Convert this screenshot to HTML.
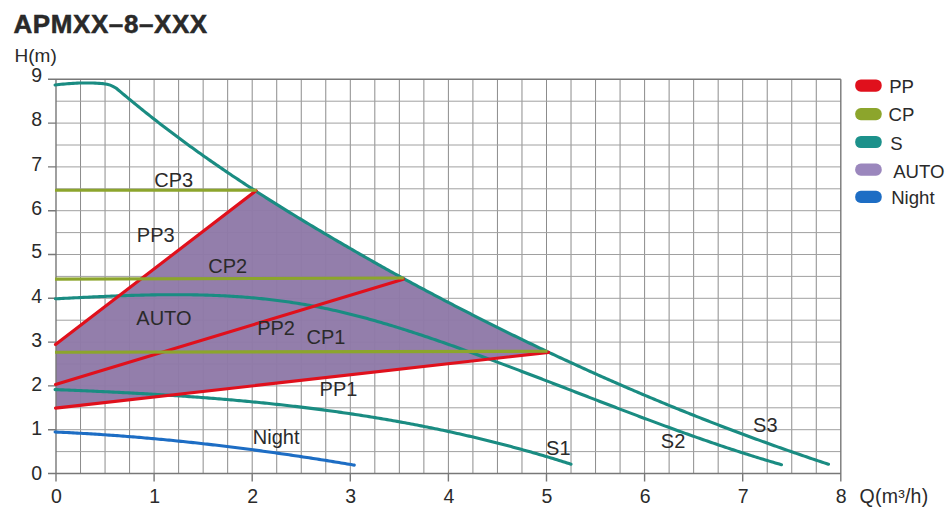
<!DOCTYPE html><html><head><meta charset="utf-8"><style>html,body{margin:0;padding:0;background:#fff;width:948px;height:520px;overflow:hidden}svg{display:block}text{font-family:"Liberation Sans",sans-serif;fill:#2a2a2a}</style></head><body>
<svg width="948" height="520" viewBox="0 0 948 520">
<text x="13.5" y="33" font-size="26" font-weight="bold" letter-spacing="0.58" fill="#262626" stroke="#262626" stroke-width="0.5">APMXX–8–XXX</text>
<text x="14.5" y="61.6" font-size="19">H(m)</text>
<path d="M80.53,79.30V473.50M105.05,79.30V473.50M129.57,79.30V473.50M154.10,79.30V473.50M178.62,79.30V473.50M203.15,79.30V473.50M227.67,79.30V473.50M252.20,79.30V473.50M276.73,79.30V473.50M301.25,79.30V473.50M325.77,79.30V473.50M350.30,79.30V473.50M374.82,79.30V473.50M399.35,79.30V473.50M423.88,79.30V473.50M448.40,79.30V473.50M472.92,79.30V473.50M497.45,79.30V473.50M521.97,79.30V473.50M546.50,79.30V473.50M571.02,79.30V473.50M595.55,79.30V473.50M620.07,79.30V473.50M644.60,79.30V473.50M669.12,79.30V473.50M693.65,79.30V473.50M718.17,79.30V473.50M742.70,79.30V473.50M767.22,79.30V473.50M791.75,79.30V473.50M816.27,79.30V473.50" stroke="#8c8c8c" stroke-width="1" fill="none"/>
<path d="M56.00,451.60H840.80M56.00,429.70H840.80M56.00,407.80H840.80M56.00,385.90H840.80M56.00,364.00H840.80M56.00,342.10H840.80M56.00,320.20H840.80M56.00,298.30H840.80M56.00,276.40H840.80M56.00,254.50H840.80M56.00,232.60H840.80M56.00,210.70H840.80M56.00,188.80H840.80M56.00,166.90H840.80M56.00,145.00H840.80M56.00,123.10H840.80M56.00,101.20H840.80" stroke="#a0a0a0" stroke-width="1" fill="none"/>
<path d="M56,408.10 L56.00,344.50 L256.20,191.37 L258.20,192.65 L260.20,193.94 L262.20,195.22 L264.20,196.49 L266.20,197.77 L268.20,199.03 L270.20,200.30 L272.20,201.56 L274.20,202.82 L276.20,204.07 L278.20,205.32 L280.20,206.57 L282.20,207.81 L284.20,209.05 L286.20,210.29 L288.20,211.53 L290.20,212.76 L292.20,213.99 L294.20,215.21 L296.20,216.43 L298.20,217.65 L300.20,218.87 L302.20,220.08 L304.20,221.29 L306.20,222.50 L308.20,223.71 L310.20,224.91 L312.20,226.11 L314.20,227.31 L316.20,228.50 L318.20,229.69 L320.20,230.88 L322.20,232.07 L324.20,233.25 L326.20,234.44 L328.20,235.62 L330.20,236.80 L332.20,237.97 L334.20,239.15 L336.20,240.32 L338.20,241.49 L340.20,242.66 L342.20,243.82 L344.20,244.99 L346.20,246.15 L348.20,247.31 L350.20,248.47 L352.20,249.63 L354.20,250.78 L356.20,251.93 L358.20,253.09 L360.20,254.24 L362.20,255.39 L364.20,256.53 L366.20,257.68 L368.20,258.82 L370.20,259.96 L372.20,261.10 L374.20,262.24 L376.20,263.37 L378.20,264.50 L380.20,265.63 L382.20,266.76 L384.20,267.88 L386.20,269.00 L388.20,270.11 L390.20,271.23 L392.20,272.34 L394.20,273.44 L396.20,274.54 L398.20,275.64 L400.20,276.74 L402.20,277.83 L404.20,278.92 L406.20,280.01 L408.20,281.09 L410.20,282.18 L412.20,283.26 L414.20,284.33 L416.20,285.41 L418.20,286.48 L420.20,287.55 L422.20,288.62 L424.20,289.68 L426.20,290.75 L428.20,291.81 L430.20,292.87 L432.20,293.93 L434.20,294.99 L436.20,296.05 L438.20,297.10 L440.20,298.15 L442.20,299.20 L444.20,300.25 L446.20,301.29 L448.20,302.34 L450.20,303.38 L452.20,304.42 L454.20,305.46 L456.20,306.49 L458.20,307.53 L460.20,308.56 L462.20,309.59 L464.20,310.62 L466.20,311.64 L468.20,312.67 L470.20,313.69 L472.20,314.71 L474.20,315.73 L476.20,316.75 L478.20,317.76 L480.20,318.78 L482.20,319.79 L484.20,320.80 L486.20,321.80 L488.20,322.81 L490.20,323.81 L492.20,324.81 L494.20,325.81 L496.20,326.81 L498.20,327.81 L500.20,328.80 L502.20,329.79 L504.20,330.78 L506.20,331.77 L508.20,332.75 L510.20,333.74 L512.20,334.72 L514.20,335.70 L516.20,336.68 L518.20,337.65 L520.20,338.62 L522.20,339.60 L524.20,340.57 L526.20,341.53 L528.20,342.50 L530.20,343.46 L532.20,344.42 L534.20,345.38 L536.20,346.34 L538.20,347.30 L540.20,348.25 L542.20,349.20 L544.20,350.15 L546.20,351.10 L548.10,352.00 Z" fill="#8f79a8" opacity="0.96"/>
<path d="M56.00,79.30V481.50M840.80,79.30V481.50M48.00,79.30H840.80M48.00,473.50H840.80M48.00,429.70H56.00M48.00,385.90H56.00M48.00,342.10H56.00M48.00,298.30H56.00M48.00,254.50H56.00M48.00,210.70H56.00M48.00,166.90H56.00M48.00,123.10H56.00M154.10,473.50V481.50M252.20,473.50V481.50M350.30,473.50V481.50M448.40,473.50V481.50M546.50,473.50V481.50M644.60,473.50V481.50M742.70,473.50V481.50" stroke="#787878" stroke-width="1.4" fill="none"/>
<path d="M55.10,389.60 L57.10,389.67 L59.10,389.75 L61.10,389.83 L63.10,389.90 L65.10,389.98 L67.10,390.06 L69.10,390.14 L71.10,390.22 L73.10,390.30 L75.10,390.39 L77.10,390.47 L79.10,390.55 L81.10,390.64 L83.10,390.72 L85.10,390.81 L87.10,390.89 L89.10,390.98 L91.10,391.07 L93.10,391.16 L95.10,391.24 L97.10,391.33 L99.10,391.43 L101.10,391.52 L103.10,391.61 L105.10,391.70 L107.10,391.80 L109.10,391.89 L111.10,391.99 L113.10,392.09 L115.10,392.19 L117.10,392.28 L119.10,392.38 L121.10,392.49 L123.10,392.59 L125.10,392.69 L127.10,392.79 L129.10,392.90 L131.10,393.00 L133.10,393.11 L135.10,393.22 L137.10,393.33 L139.10,393.44 L141.10,393.55 L143.10,393.66 L145.10,393.78 L147.10,393.89 L149.10,394.01 L151.10,394.12 L153.10,394.24 L155.10,394.36 L157.10,394.48 L159.10,394.60 L161.10,394.73 L163.10,394.85 L165.10,394.98 L167.10,395.10 L169.10,395.23 L171.10,395.36 L173.10,395.49 L175.10,395.62 L177.10,395.76 L179.10,395.89 L181.10,396.03 L183.10,396.16 L185.10,396.30 L187.10,396.44 L189.10,396.58 L191.10,396.73 L193.10,396.87 L195.10,397.02 L197.10,397.16 L199.10,397.31 L201.10,397.46 L203.10,397.61 L205.10,397.77 L207.10,397.92 L209.10,398.08 L211.10,398.23 L213.10,398.39 L215.10,398.55 L217.10,398.72 L219.10,398.88 L221.10,399.05 L223.10,399.21 L225.10,399.38 L227.10,399.55 L229.10,399.72 L231.10,399.90 L233.10,400.07 L235.10,400.25 L237.10,400.43 L239.10,400.61 L241.10,400.79 L243.10,400.98 L245.10,401.16 L247.10,401.35 L249.10,401.54 L251.10,401.73 L253.10,401.92 L255.10,402.12 L257.10,402.31 L259.10,402.51 L261.10,402.71 L263.10,402.91 L265.10,403.12 L267.10,403.32 L269.10,403.53 L271.10,403.74 L273.10,403.95 L275.10,404.17 L277.10,404.38 L279.10,404.60 L281.10,404.82 L283.10,405.04 L285.10,405.26 L287.10,405.49 L289.10,405.72 L291.10,405.95 L293.10,406.18 L295.10,406.41 L297.10,406.65 L299.10,406.89 L301.10,407.13 L303.10,407.37 L305.10,407.61 L307.10,407.86 L309.10,408.11 L311.10,408.36 L313.10,408.61 L315.10,408.87 L317.10,409.12 L319.10,409.38 L321.10,409.65 L323.10,409.91 L325.10,410.18 L327.10,410.45 L329.10,410.72 L331.10,410.99 L333.10,411.26 L335.10,411.54 L337.10,411.82 L339.10,412.11 L341.10,412.39 L343.10,412.68 L345.10,412.97 L347.10,413.26 L349.10,413.55 L351.10,413.85 L353.10,414.15 L355.10,414.45 L357.10,414.76 L359.10,415.06 L361.10,415.37 L363.10,415.68 L365.10,416.00 L367.10,416.32 L369.10,416.63 L371.10,416.96 L373.10,417.28 L375.10,417.61 L377.10,417.94 L379.10,418.27 L381.10,418.60 L383.10,418.94 L385.10,419.28 L387.10,419.63 L389.10,419.97 L391.10,420.32 L393.10,420.67 L395.10,421.02 L397.10,421.38 L399.10,421.74 L401.10,422.10 L403.10,422.47 L405.10,422.83 L407.10,423.20 L409.10,423.58 L411.10,423.95 L413.10,424.33 L415.10,424.71 L417.10,425.10 L419.10,425.48 L421.10,425.87 L423.10,426.26 L425.10,426.66 L427.10,427.06 L429.10,427.46 L431.10,427.87 L433.10,428.27 L435.10,428.68 L437.10,429.10 L439.10,429.51 L441.10,429.93 L443.10,430.35 L445.10,430.78 L447.10,431.21 L449.10,431.64 L451.10,432.07 L453.10,432.51 L455.10,432.95 L457.10,433.40 L459.10,433.84 L461.10,434.29 L463.10,434.75 L465.10,435.20 L467.10,435.66 L469.10,436.13 L471.10,436.59 L473.10,437.06 L475.10,437.53 L477.10,438.01 L479.10,438.49 L481.10,438.97 L483.10,439.45 L485.10,439.94 L487.10,440.43 L489.10,440.93 L491.10,441.43 L493.10,441.93 L495.10,442.44 L497.10,442.94 L499.10,443.46 L501.10,443.97 L503.10,444.49 L505.10,445.01 L507.10,445.54 L509.10,446.07 L511.10,446.60 L513.10,447.13 L515.10,447.67 L517.10,448.22 L519.10,448.76 L521.10,449.31 L523.10,449.87 L525.10,450.42 L527.10,450.98 L529.10,451.55 L531.10,452.11 L533.10,452.69 L535.10,453.26 L537.10,453.84 L539.10,454.42 L541.10,455.01 L543.10,455.60 L545.10,456.19 L547.10,456.78 L549.10,457.38 L551.10,457.99 L553.10,458.60 L555.10,459.21 L557.10,459.82 L559.10,460.44 L561.10,461.06 L563.10,461.69 L565.10,462.32 L567.10,462.96 L569.10,463.59 L571.00,464.20" stroke="#1a8c82" stroke-width="3.1" fill="none" stroke-linecap="round" stroke-linejoin="round"/>
<path d="M55.30,298.79 L57.30,298.69 L59.30,298.58 L61.30,298.48 L63.30,298.38 L65.30,298.28 L67.30,298.18 L69.30,298.08 L71.30,297.98 L73.30,297.88 L75.30,297.78 L77.30,297.68 L79.30,297.58 L81.30,297.48 L83.30,297.38 L85.30,297.29 L87.30,297.19 L89.30,297.10 L91.30,297.00 L93.30,296.91 L95.30,296.82 L97.30,296.73 L99.30,296.64 L101.30,296.55 L103.30,296.46 L105.30,296.38 L107.30,296.29 L109.30,296.21 L111.30,296.13 L113.30,296.05 L115.30,295.97 L117.30,295.90 L119.30,295.82 L121.30,295.75 L123.30,295.68 L125.30,295.61 L127.30,295.54 L129.30,295.48 L131.30,295.42 L133.30,295.36 L135.30,295.30 L137.30,295.24 L139.30,295.19 L141.30,295.14 L143.30,295.09 L145.30,295.04 L147.30,295.00 L149.30,294.96 L151.30,294.92 L153.30,294.88 L155.30,294.85 L157.30,294.82 L159.30,294.79 L161.30,294.77 L163.30,294.75 L165.30,294.73 L167.30,294.71 L169.30,294.70 L171.30,294.69 L173.30,294.69 L175.30,294.69 L177.30,294.69 L179.30,294.69 L181.30,294.70 L183.30,294.72 L185.30,294.73 L187.30,294.75 L189.30,294.78 L191.30,294.80 L193.30,294.83 L195.30,294.87 L197.30,294.91 L199.30,294.95 L201.30,295.00 L203.30,295.05 L205.30,295.11 L207.30,295.17 L209.30,295.23 L211.30,295.30 L213.30,295.37 L215.30,295.45 L217.30,295.54 L219.30,295.62 L221.30,295.72 L223.30,295.81 L225.30,295.91 L227.30,296.02 L229.30,296.13 L231.30,296.25 L233.30,296.37 L235.30,296.50 L237.30,296.63 L239.30,296.77 L241.30,296.91 L243.30,297.06 L245.30,297.21 L247.30,297.37 L249.30,297.53 L251.30,297.70 L253.30,297.88 L255.30,298.06 L257.30,298.24 L259.30,298.44 L261.30,298.64 L263.30,298.84 L265.30,299.05 L267.30,299.27 L269.30,299.49 L271.30,299.72 L273.30,299.95 L275.30,300.20 L277.30,300.44 L279.30,300.70 L281.30,300.96 L283.30,301.22 L285.30,301.50 L287.30,301.78 L289.30,302.06 L291.30,302.36 L293.30,302.66 L295.30,302.97 L297.30,303.28 L299.30,303.60 L301.30,303.93 L303.30,304.27 L305.30,304.61 L307.30,304.96 L309.30,305.31 L311.30,305.68 L313.30,306.05 L315.30,306.43 L317.30,306.82 L319.30,307.21 L321.30,307.61 L323.30,308.02 L325.30,308.43 L327.30,308.85 L329.30,309.28 L331.30,309.72 L333.30,310.16 L335.30,310.61 L337.30,311.06 L339.30,311.52 L341.30,311.99 L343.30,312.46 L345.30,312.94 L347.30,313.43 L349.30,313.92 L351.30,314.42 L353.30,314.92 L355.30,315.43 L357.30,315.95 L359.30,316.47 L361.30,317.00 L363.30,317.53 L365.30,318.07 L367.30,318.61 L369.30,319.16 L371.30,319.72 L373.30,320.28 L375.30,320.84 L377.30,321.41 L379.30,321.99 L381.30,322.57 L383.30,323.15 L385.30,323.74 L387.30,324.33 L389.30,324.93 L391.30,325.54 L393.30,326.14 L395.30,326.75 L397.30,327.37 L399.30,327.99 L401.30,328.62 L403.30,329.24 L405.30,329.88 L407.30,330.51 L409.30,331.16 L411.30,331.80 L413.30,332.45 L415.30,333.10 L417.30,333.76 L419.30,334.41 L421.30,335.08 L423.30,335.74 L425.30,336.41 L427.30,337.08 L429.30,337.76 L431.30,338.44 L433.30,339.12 L435.30,339.80 L437.30,340.49 L439.30,341.18 L441.30,341.87 L443.30,342.57 L445.30,343.27 L447.30,343.97 L449.30,344.67 L451.30,345.37 L453.30,346.08 L455.30,346.79 L457.30,347.50 L459.30,348.22 L461.30,348.93 L463.30,349.65 L465.30,350.37 L467.30,351.09 L469.30,351.82 L471.30,352.54 L473.30,353.27 L475.30,354.00 L477.30,354.73 L479.30,355.46 L481.30,356.20 L483.30,356.93 L485.30,357.67 L487.30,358.41 L489.30,359.15 L491.30,359.89 L493.30,360.63 L495.30,361.38 L497.30,362.13 L499.30,362.87 L501.30,363.62 L503.30,364.37 L505.30,365.12 L507.30,365.88 L509.30,366.63 L511.30,367.39 L513.30,368.14 L515.30,368.90 L517.30,369.66 L519.30,370.42 L521.30,371.18 L523.30,371.94 L525.30,372.70 L527.30,373.46 L529.30,374.23 L531.30,374.99 L533.30,375.76 L535.30,376.52 L537.30,377.29 L539.30,378.06 L541.30,378.82 L543.30,379.59 L545.30,380.36 L547.30,381.13 L549.30,381.90 L551.30,382.67 L553.30,383.44 L555.30,384.21 L557.30,384.98 L559.30,385.75 L561.30,386.53 L563.30,387.30 L565.30,388.07 L567.30,388.84 L569.30,389.61 L571.30,390.39 L573.30,391.16 L575.30,391.93 L577.30,392.70 L579.30,393.48 L581.30,394.25 L583.30,395.02 L585.30,395.79 L587.30,396.56 L589.30,397.34 L591.30,398.11 L593.30,398.88 L595.30,399.65 L597.30,400.42 L599.30,401.19 L601.30,401.96 L603.30,402.72 L605.30,403.49 L607.30,404.26 L609.30,405.03 L611.30,405.79 L613.30,406.56 L615.30,407.32 L617.30,408.09 L619.30,408.85 L621.30,409.61 L623.30,410.37 L625.30,411.13 L627.30,411.89 L629.30,412.65 L631.30,413.41 L633.30,414.16 L635.30,414.92 L637.30,415.67 L639.30,416.43 L641.30,417.18 L643.30,417.93 L645.30,418.68 L647.30,419.42 L649.30,420.17 L651.30,420.92 L653.30,421.66 L655.30,422.40 L657.30,423.14 L659.30,423.88 L661.30,424.62 L663.30,425.36 L665.30,426.09 L667.30,426.82 L669.30,427.55 L671.30,428.28 L673.30,429.01 L675.30,429.74 L677.30,430.46 L679.30,431.18 L681.30,431.90 L683.30,432.62 L685.30,433.34 L687.30,434.05 L689.30,434.76 L691.30,435.47 L693.30,436.18 L695.30,436.89 L697.30,437.59 L699.30,438.29 L701.30,438.99 L703.30,439.69 L705.30,440.38 L707.30,441.07 L709.30,441.76 L711.30,442.45 L713.30,443.14 L715.30,443.82 L717.30,444.50 L719.30,445.17 L721.30,445.85 L723.30,446.52 L725.30,447.19 L727.30,447.85 L729.30,448.52 L731.30,449.18 L733.30,449.83 L735.30,450.49 L737.30,451.14 L739.30,451.79 L741.30,452.44 L743.30,453.08 L745.30,453.72 L747.30,454.35 L749.30,454.99 L751.30,455.62 L753.30,456.25 L755.30,456.87 L757.30,457.49 L759.30,458.11 L761.30,458.72 L763.30,459.33 L765.30,459.94 L767.30,460.54 L769.30,461.14 L771.30,461.74 L773.30,462.33 L775.30,462.92 L777.30,463.51 L779.30,464.09 L781.30,464.67 L781.50,464.72" stroke="#1a8c82" stroke-width="3.1" fill="none" stroke-linecap="round" stroke-linejoin="round"/>
<path d="M55.10,85.00 L57.10,84.76 L59.10,84.53 L61.10,84.31 L63.10,84.11 L65.10,83.92 L67.10,83.75 L69.10,83.60 L71.10,83.46 L73.10,83.33 L75.10,83.22 L77.10,83.13 L79.10,83.06 L81.10,83.00 L83.10,82.97 L85.10,82.95 L87.10,82.95 L89.10,82.96 L91.10,83.00 L93.10,83.06 L95.10,83.14 L97.10,83.24 L99.10,83.36 L101.10,83.50 L103.10,83.66 L103.50,83.70 Q110.6,84.3 116.30,88.26 L118.30,89.96 L120.30,91.65 L122.30,93.33 L124.30,95.01 L126.30,96.68 L128.30,98.34 L130.30,99.99 L132.30,101.64 L134.30,103.28 L136.30,104.91 L138.30,106.53 L140.30,108.15 L142.30,109.76 L144.30,111.36 L146.30,112.96 L148.30,114.55 L150.30,116.13 L152.30,117.70 L154.30,119.27 L156.30,120.83 L158.30,122.39 L160.30,123.94 L162.30,125.48 L164.30,127.01 L166.30,128.54 L168.30,130.06 L170.30,131.57 L172.30,133.08 L174.30,134.59 L176.30,136.08 L178.30,137.57 L180.30,139.05 L182.30,140.53 L184.30,142.00 L186.30,143.47 L188.30,144.93 L190.30,146.38 L192.30,147.83 L194.30,149.27 L196.30,150.71 L198.30,152.14 L200.30,153.57 L202.30,154.99 L204.30,156.40 L206.30,157.81 L208.30,159.21 L210.30,160.61 L212.30,162.00 L214.30,163.39 L216.30,164.77 L218.30,166.15 L220.30,167.52 L222.30,168.89 L224.30,170.25 L226.30,171.61 L228.30,172.96 L230.30,174.31 L232.30,175.66 L234.30,177.00 L236.30,178.33 L238.30,179.66 L240.30,180.98 L242.30,182.30 L244.30,183.62 L246.30,184.93 L248.30,186.24 L250.30,187.54 L252.30,188.84 L254.30,190.14 L256.30,191.43 L258.30,192.72 L260.30,194.00 L262.30,195.28 L264.30,196.56 L266.30,197.83 L268.30,199.10 L270.30,200.36 L272.30,201.62 L274.30,202.88 L276.30,204.13 L278.30,205.38 L280.30,206.63 L282.30,207.88 L284.30,209.12 L286.30,210.35 L288.30,211.59 L290.30,212.82 L292.30,214.05 L294.30,215.27 L296.30,216.49 L298.30,217.71 L300.30,218.93 L302.30,220.14 L304.30,221.35 L306.30,222.56 L308.30,223.77 L310.30,224.97 L312.30,226.17 L314.30,227.37 L316.30,228.56 L318.30,229.75 L320.30,230.94 L322.30,232.13 L324.30,233.31 L326.30,234.50 L328.30,235.68 L330.30,236.86 L332.30,238.03 L334.30,239.21 L336.30,240.38 L338.30,241.55 L340.30,242.71 L342.30,243.88 L344.30,245.04 L346.30,246.21 L348.30,247.37 L350.30,248.53 L352.30,249.68 L354.30,250.84 L356.30,251.99 L358.30,253.14 L360.30,254.29 L362.30,255.44 L364.30,256.59 L366.30,257.74 L368.30,258.88 L370.30,260.02 L372.30,261.16 L374.30,262.29 L376.30,263.43 L378.30,264.56 L380.30,265.69 L382.30,266.81 L384.30,267.94 L386.30,269.05 L388.30,270.17 L390.30,271.28 L392.30,272.39 L394.30,273.50 L396.30,274.60 L398.30,275.70 L400.30,276.79 L402.30,277.89 L404.30,278.98 L406.30,280.06 L408.30,281.15 L410.30,282.23 L412.30,283.31 L414.30,284.39 L416.30,285.46 L418.30,286.53 L420.30,287.60 L422.30,288.67 L424.30,289.74 L426.30,290.80 L428.30,291.87 L430.30,292.93 L432.30,293.99 L434.30,295.04 L436.30,296.10 L438.30,297.15 L440.30,298.20 L442.30,299.25 L444.30,300.30 L446.30,301.35 L448.30,302.39 L450.30,303.43 L452.30,304.47 L454.30,305.51 L456.30,306.54 L458.30,307.58 L460.30,308.61 L462.30,309.64 L464.30,310.67 L466.30,311.70 L468.30,312.72 L470.30,313.74 L472.30,314.76 L474.30,315.78 L476.30,316.80 L478.30,317.81 L480.30,318.83 L482.30,319.84 L484.30,320.85 L486.30,321.85 L488.30,322.86 L490.30,323.86 L492.30,324.86 L494.30,325.86 L496.30,326.86 L498.30,327.86 L500.30,328.85 L502.30,329.84 L504.30,330.83 L506.30,331.82 L508.30,332.80 L510.30,333.79 L512.30,334.77 L514.30,335.75 L516.30,336.72 L518.30,337.70 L520.30,338.67 L522.30,339.64 L524.30,340.61 L526.30,341.58 L528.30,342.55 L530.30,343.51 L532.30,344.47 L534.30,345.43 L536.30,346.39 L538.30,347.35 L540.30,348.30 L542.30,349.25 L544.30,350.20 L546.30,351.15 L548.30,352.09 L550.30,353.04 L552.30,353.98 L554.30,354.92 L556.30,355.85 L558.30,356.79 L560.30,357.72 L562.30,358.65 L564.30,359.58 L566.30,360.51 L568.30,361.44 L570.30,362.36 L572.30,363.28 L574.30,364.20 L576.30,365.12 L578.30,366.03 L580.30,366.94 L582.30,367.86 L584.30,368.76 L586.30,369.67 L588.30,370.58 L590.30,371.48 L592.30,372.38 L594.30,373.28 L596.30,374.17 L598.30,375.07 L600.30,375.96 L602.30,376.85 L604.30,377.74 L606.30,378.62 L608.30,379.51 L610.30,380.39 L612.30,381.27 L614.30,382.15 L616.30,383.02 L618.30,383.90 L620.30,384.77 L622.30,385.64 L624.30,386.50 L626.30,387.37 L628.30,388.23 L630.30,389.09 L632.30,389.95 L634.30,390.81 L636.30,391.66 L638.30,392.52 L640.30,393.37 L642.30,394.22 L644.30,395.06 L646.30,395.91 L648.30,396.75 L650.30,397.59 L652.30,398.43 L654.30,399.26 L656.30,400.10 L658.30,400.93 L660.30,401.76 L662.30,402.59 L664.30,403.41 L666.30,404.23 L668.30,405.06 L670.30,405.88 L672.30,406.69 L674.30,407.51 L676.30,408.32 L678.30,409.13 L680.30,409.94 L682.30,410.75 L684.30,411.55 L686.30,412.36 L688.30,413.16 L690.30,413.96 L692.30,414.75 L694.30,415.55 L696.30,416.34 L698.30,417.13 L700.30,417.92 L702.30,418.71 L704.30,419.49 L706.30,420.27 L708.30,421.05 L710.30,421.83 L712.30,422.61 L714.30,423.38 L716.30,424.15 L718.30,424.92 L720.30,425.69 L722.30,426.46 L724.30,427.22 L726.30,427.98 L728.30,428.74 L730.30,429.50 L732.30,430.26 L734.30,431.01 L736.30,431.76 L738.30,432.51 L740.30,433.26 L742.30,434.01 L744.30,434.75 L746.30,435.49 L748.30,436.23 L750.30,436.97 L752.30,437.71 L754.30,438.44 L756.30,439.17 L758.30,439.90 L760.30,440.63 L762.30,441.35 L764.30,442.08 L766.30,442.80 L768.30,443.52 L770.30,444.24 L772.30,444.95 L774.30,445.67 L776.30,446.38 L778.30,447.09 L780.30,447.79 L782.30,448.50 L784.30,449.20 L786.30,449.91 L788.30,450.60 L790.30,451.30 L792.30,452.00 L794.30,452.69 L796.30,453.38 L798.30,454.07 L800.30,454.76 L802.30,455.45 L804.30,456.13 L806.30,456.81 L808.30,457.49 L810.30,458.17 L812.30,458.85 L814.30,459.52 L816.30,460.19 L818.30,460.86 L820.30,461.53 L822.30,462.19 L824.30,462.86 L826.30,463.52 L828.30,464.18 L828.50,464.25" stroke="#1a8c82" stroke-width="3.1" fill="none" stroke-linecap="round" stroke-linejoin="round"/>
<path d="M55.50,344.50 L256.20,190.60" stroke="#e0101c" stroke-width="3.1" fill="none" stroke-linecap="round"/>
<path d="M55.50,384.50 L403.30,279.20" stroke="#e0101c" stroke-width="3.1" fill="none" stroke-linecap="round"/>
<path d="M55.50,408.10 L548.60,352.40" stroke="#e0101c" stroke-width="3.1" fill="none" stroke-linecap="round"/>
<path d="M55,190.20 L256.70,190.30" stroke="#8ca52c" stroke-width="3.1" fill="none"/>
<path d="M55,279.10 L403.80,278.00" stroke="#8ca52c" stroke-width="3.1" fill="none"/>
<path d="M55,352.30 L547.50,351.30" stroke="#8ca52c" stroke-width="3.1" fill="none"/>
<path d="M55.10,432.01 L57.10,432.10 L59.10,432.19 L61.10,432.28 L63.10,432.38 L65.10,432.48 L67.10,432.57 L69.10,432.67 L71.10,432.78 L73.10,432.88 L75.10,432.99 L77.10,433.09 L79.10,433.20 L81.10,433.32 L83.10,433.43 L85.10,433.55 L87.10,433.67 L89.10,433.79 L91.10,433.91 L93.10,434.03 L95.10,434.16 L97.10,434.28 L99.10,434.41 L101.10,434.55 L103.10,434.68 L105.10,434.81 L107.10,434.95 L109.10,435.09 L111.10,435.23 L113.10,435.38 L115.10,435.52 L117.10,435.67 L119.10,435.82 L121.10,435.97 L123.10,436.12 L125.10,436.27 L127.10,436.43 L129.10,436.59 L131.10,436.75 L133.10,436.91 L135.10,437.07 L137.10,437.24 L139.10,437.41 L141.10,437.58 L143.10,437.75 L145.10,437.92 L147.10,438.10 L149.10,438.27 L151.10,438.45 L153.10,438.63 L155.10,438.81 L157.10,439.00 L159.10,439.18 L161.10,439.37 L163.10,439.56 L165.10,439.75 L167.10,439.94 L169.10,440.14 L171.10,440.33 L173.10,440.53 L175.10,440.73 L177.10,440.93 L179.10,441.13 L181.10,441.34 L183.10,441.54 L185.10,441.75 L187.10,441.96 L189.10,442.17 L191.10,442.39 L193.10,442.60 L195.10,442.82 L197.10,443.04 L199.10,443.26 L201.10,443.48 L203.10,443.70 L205.10,443.93 L207.10,444.16 L209.10,444.39 L211.10,444.62 L213.10,444.85 L215.10,445.08 L217.10,445.32 L219.10,445.55 L221.10,445.79 L223.10,446.03 L225.10,446.27 L227.10,446.52 L229.10,446.76 L231.10,447.01 L233.10,447.26 L235.10,447.51 L237.10,447.76 L239.10,448.01 L241.10,448.27 L243.10,448.52 L245.10,448.78 L247.10,449.04 L249.10,449.30 L251.10,449.56 L253.10,449.83 L255.10,450.09 L257.10,450.36 L259.10,450.63 L261.10,450.90 L263.10,451.17 L265.10,451.45 L267.10,451.72 L269.10,452.00 L271.10,452.27 L273.10,452.55 L275.10,452.83 L277.10,453.12 L279.10,453.40 L281.10,453.69 L283.10,453.97 L285.10,454.26 L287.10,454.55 L289.10,454.84 L291.10,455.14 L293.10,455.43 L295.10,455.73 L297.10,456.02 L299.10,456.32 L301.10,456.62 L303.10,456.92 L305.10,457.23 L307.10,457.53 L309.10,457.84 L311.10,458.14 L313.10,458.45 L315.10,458.76 L317.10,459.08 L319.10,459.39 L321.10,459.70 L323.10,460.02 L325.10,460.34 L327.10,460.65 L329.10,460.97 L331.10,461.29 L333.10,461.62 L335.10,461.94 L337.10,462.27 L339.10,462.59 L341.10,462.92 L343.10,463.25 L345.10,463.58 L347.10,463.91 L349.10,464.25 L351.10,464.58 L353.10,464.92 L354.30,465.12" stroke="#1d6dc4" stroke-width="3.1" fill="none" stroke-linecap="round" stroke-linejoin="round"/>
<text x="42" y="479.6" font-size="19.5" text-anchor="end">0</text>
<text x="42" y="435.2" font-size="19.5" text-anchor="end">1</text>
<text x="42" y="391.2" font-size="19.5" text-anchor="end">2</text>
<text x="42" y="346.5" font-size="19.5" text-anchor="end">3</text>
<text x="42" y="303.0" font-size="19.5" text-anchor="end">4</text>
<text x="42" y="258.4" font-size="19.5" text-anchor="end">5</text>
<text x="42" y="214.9" font-size="19.5" text-anchor="end">6</text>
<text x="42" y="170.9" font-size="19.5" text-anchor="end">7</text>
<text x="42" y="126.2" font-size="19.5" text-anchor="end">8</text>
<text x="42" y="81.5" font-size="19.5" text-anchor="end">9</text>
<text x="56.5" y="502.9" font-size="19.5" text-anchor="middle">0</text>
<text x="154.6" y="502.9" font-size="19.5" text-anchor="middle">1</text>
<text x="252.7" y="502.9" font-size="19.5" text-anchor="middle">2</text>
<text x="350.8" y="502.9" font-size="19.5" text-anchor="middle">3</text>
<text x="448.9" y="502.9" font-size="19.5" text-anchor="middle">4</text>
<text x="547.0" y="502.9" font-size="19.5" text-anchor="middle">5</text>
<text x="645.1" y="502.9" font-size="19.5" text-anchor="middle">6</text>
<text x="743.2" y="502.9" font-size="19.5" text-anchor="middle">7</text>
<text x="841.3" y="502.9" font-size="19.5" text-anchor="middle">8</text>
<text x="859.5" y="502.6" font-size="19.5" letter-spacing="0.25">Q(m³/h)</text>
<text x="154.2" y="187.4" font-size="20">CP3</text>
<text x="136.8" y="242.3" font-size="20">PP3</text>
<text x="208.2" y="272.5" font-size="20">CP2</text>
<text x="136.3" y="325.0" font-size="20">AUTO</text>
<text x="257.2" y="334.7" font-size="20">PP2</text>
<text x="306.5" y="344.4" font-size="20">CP1</text>
<text x="319.6" y="396.0" font-size="20">PP1</text>
<text x="252.8" y="443.6" font-size="20">Night</text>
<text x="546.1" y="454.8" font-size="20">S1</text>
<text x="660.8" y="448.4" font-size="20">S2</text>
<text x="753.1" y="431.5" font-size="20">S3</text>
<rect x="855.2" y="79.45" width="26.5" height="12.2" rx="5.6" fill="#e0101c"/>
<text x="889.2" y="92.7" font-size="18.6">PP</text>
<rect x="855.2" y="108.00" width="26.5" height="12.2" rx="5.6" fill="#8ca52c"/>
<text x="888.5" y="121.0" font-size="18.6">CP</text>
<rect x="855.2" y="135.90" width="26.5" height="12.2" rx="5.6" fill="#1c918b"/>
<text x="890.3" y="149.6" font-size="18.6">S</text>
<rect x="855.2" y="163.55" width="26.5" height="12.2" rx="5.6" fill="#9b87bd"/>
<text x="893.2" y="177.5" font-size="18.6">AUTO</text>
<rect x="855.2" y="190.80" width="26.5" height="12.2" rx="5.6" fill="#1d6dc4"/>
<text x="891.2" y="204.4" font-size="18.6">Night</text>
</svg></body></html>
